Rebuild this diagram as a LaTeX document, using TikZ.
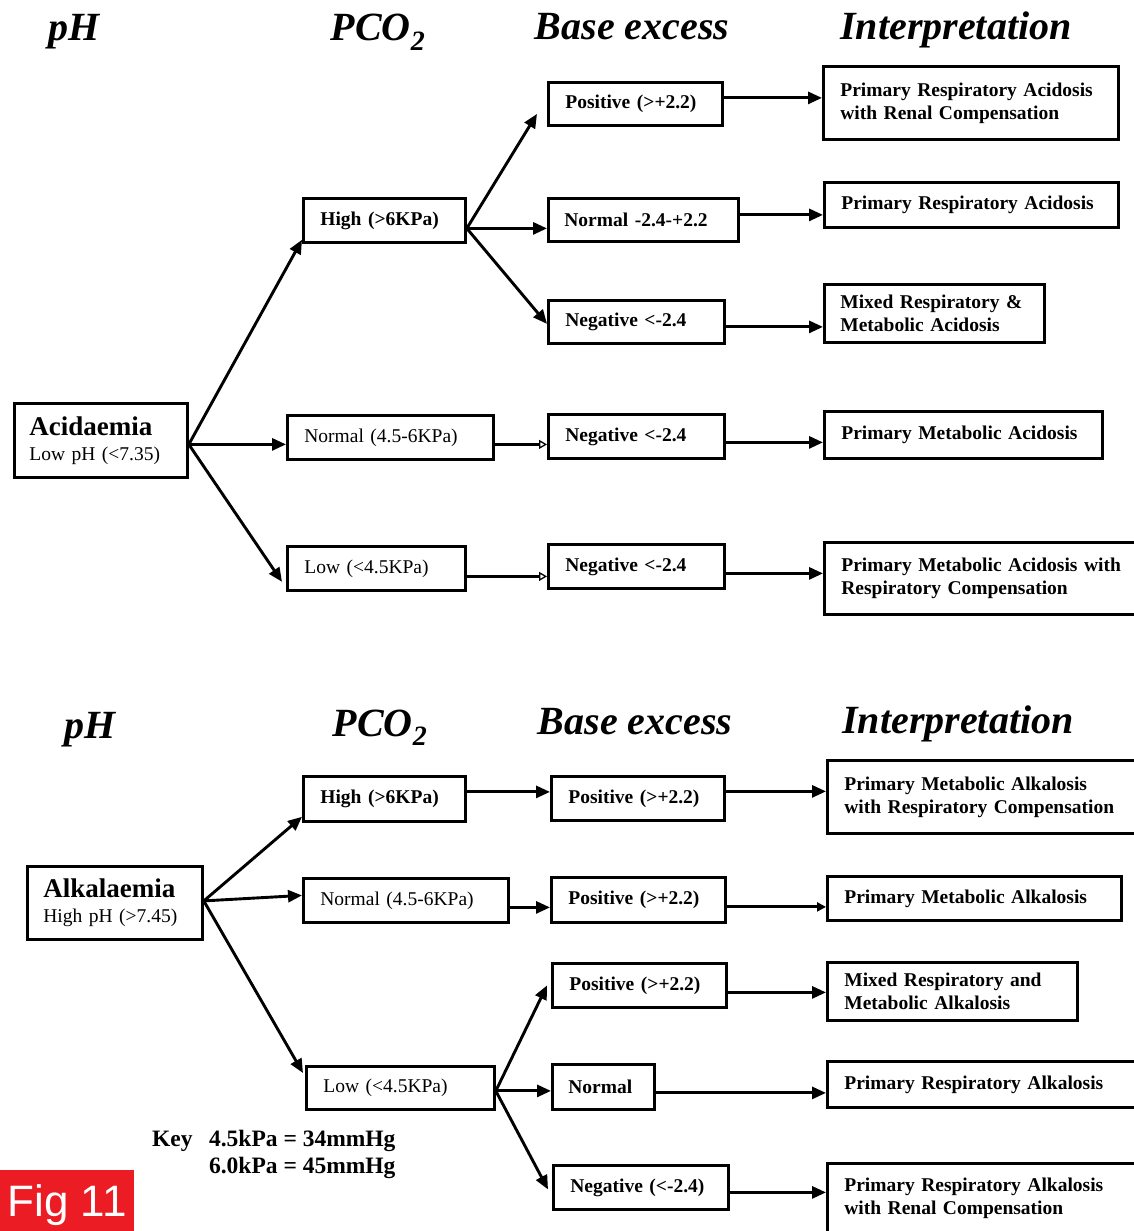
\documentclass[tikz,border=0pt]{standalone}
\usepackage{fontspec}
\setmainfont{Liberation Serif}
\newfontfamily\figfont{Liberation Sans}
\usetikzlibrary{arrows.meta,calc}
\definecolor{figred}{RGB}{236,28,36}
\tikzset{
  box/.style={draw, line width=2.8pt, anchor=north west, inner xsep=16pt, inner ysep=2pt, align=left, font=\fontsize{19.5}{23}\selectfont\bfseries},
  boxr/.style={box, font=\fontsize{19.5}{23}\selectfont},
  hdr/.style={anchor=base, inner sep=0pt, font=\fontsize{40}{44}\selectfont\bfseries\itshape},
  keytext/.style={inner sep=0pt, font=\fontsize{23.5}{26}\selectfont\bfseries},
  arr/.style={line width=2.9pt, -{Triangle[length=14pt,width=12pt]}},
  oarr/.style={line width=2.9pt, -{Triangle[open,length=8pt,width=9pt,line width=1.3pt]}},
}
\begin{document}
\begin{tikzpicture}[x=1pt,y=-1pt]
\useasboundingbox (0,0) rectangle (1134,1231);
\clip (0,0) rectangle (1134,1231);

% ---------- top headers
\node[hdr] (h1) at (74,41) {pH};
\node[hdr] (h2) at (378,41) {PCO\textsubscript{2}};
\node[hdr] (h3) at (632,40) {Base excess};
\node[hdr] (h4) at (956,40) {Interpretation};

% ---------- top boxes
\node[box, font=\fontsize{19.5}{25}\selectfont, inner xsep=14pt, minimum width=173, minimum height=74, text width=143] (acid) at (13,402)
  {{\bfseries\fontsize{27}{25}\selectfont Acidaemia}\\Low pH (<7.35)};
\node[box,  minimum width=162, minimum height=44, text width=128] (highA) at (302,197) {High (>6KPa)};
\node[boxr, minimum width=206, minimum height=44, text width=172] (normA) at (286,414) {Normal (4.5-6KPa)};
\node[boxr, minimum width=178, minimum height=44, text width=144] (lowA) at (286,545) {Low (<4.5KPa)};

\node[box, minimum width=174, minimum height=43, text width=140] (pos1) at (547,81) {Positive (>+2.2)};
\node[box, minimum width=190, minimum height=43, text width=158] (nor1) at (547,197) {Normal -2.4-+2.2};
\node[box, minimum width=176, minimum height=43, text width=142] (neg1) at (547,299) {Negative <-2.4};
\node[box, minimum width=176, minimum height=44, text width=142] (neg2) at (547,413) {Negative <-2.4};
\node[box, minimum width=176, minimum height=44, text width=142] (neg3) at (547,543) {Negative <-2.4};

\node[box, minimum width=295, minimum height=73, text width=261] (int1) at (822,65) {Primary Respiratory Acidosis\\with Renal Compensation};
\node[box, minimum width=294, minimum height=45, text width=260] (int2) at (823,181) {Primary Respiratory Acidosis};
\node[box, minimum width=220, minimum height=58, text width=188] (int3) at (823,283) {Mixed Respiratory \&\\Metabolic Acidosis};
\node[box, minimum width=278, minimum height=47, text width=244] (int4) at (823,410) {Primary Metabolic Acidosis};
\node[box, minimum width=330, minimum height=72, text width=296] (int5) at (823,541) {Primary Metabolic Acidosis with\\Respiratory Compensation};

% ---------- top arrows
\path ($(acid.east)+(0,4)$) coordinate (a0)
      ($(highA.east)+(0,8)$) coordinate (hA)
      ($(normA.east)+(0,7)$) coordinate (nA)
      ($(lowA.east)+(0,8)$) coordinate (lA)
      ($(pos1.east)+(0,-6)$) coordinate (p1)
      ($(nor1.east)+(0,-5)$) coordinate (r1)
      ($(neg1.east)+(0,5)$) coordinate (g1)
      ($(neg2.east)+(0,6)$) coordinate (g2)
      ($(neg3.east)+(0,7)$) coordinate (g3);
\draw[arr] (a0) -- ($(highA.south west)+(0,-4)$);
\draw[arr] (a0) -- (a0 -| normA.west);
\draw[arr] (a0) -- ($(lowA.south west)+(-4,-10)$);
\draw[arr] (hA) -- ($(pos1.west)+(-10,10)$);
\draw[arr] (hA) -- (hA -| nor1.west);
\draw[arr] (hA) -- ($(neg1.west)+(0,2)$);
\draw[oarr] (nA) -- (nA -| neg2.west);
\draw[oarr] (lA) -- (lA -| neg3.west);
\draw[arr] (p1) -- (p1 -| int1.west);
\draw[arr] (r1) -- (r1 -| int2.west);
\draw[arr] (g1) -- (g1 -| int3.west);
\draw[arr] (g2) -- (g2 -| int4.west);
\draw[arr] (g3) -- (g3 -| int5.west);

% ---------- bottom headers
\node[hdr] (h5) at (90,738) {pH};
\node[hdr] (h6) at (380,736) {PCO\textsubscript{2}};
\node[hdr] (h7) at (635,734) {Base excess};
\node[hdr] (h8) at (958,733) {Interpretation};

% ---------- bottom boxes
\node[box, font=\fontsize{19.5}{25}\selectfont, inner xsep=15pt, minimum width=175, minimum height=73, text width=143] (alk) at (26,865)
  {{\bfseries\fontsize{27}{25}\selectfont Alkalaemia}\\High pH (>7.45)};
\node[box,  minimum width=162, minimum height=45, text width=128] (highB) at (302,775) {High (>6KPa)};
\node[boxr, minimum width=205, minimum height=44, text width=171] (normB) at (302,877) {Normal (4.5-6KPa)};
\node[boxr, minimum width=188, minimum height=43, text width=154] (lowB) at (305,1065) {Low (<4.5KPa)};

\node[box, minimum width=173, minimum height=44, text width=139] (posb1) at (550,775) {Positive (>+2.2)};
\node[box, minimum width=174, minimum height=45, text width=140] (posb2) at (550,876) {Positive (>+2.2)};
\node[box, minimum width=174, minimum height=44, text width=140] (posb3) at (551,962) {Positive (>+2.2)};
\node[box, minimum width=102, minimum height=45, text width=70] (norb) at (551,1063) {Normal};
\node[box, minimum width=175, minimum height=44, text width=141] (negb) at (552,1164) {Negative (<-2.4)};

\node[box, minimum width=330, minimum height=73, text width=296] (intb1) at (826,759) {Primary Metabolic Alkalosis\\with Respiratory Compensation};
\node[box, minimum width=294, minimum height=44, text width=260] (intb2) at (826,875) {Primary Metabolic Alkalosis};
\node[box, minimum width=250, minimum height=58, text width=216] (intb3) at (826,961) {Mixed Respiratory and\\Metabolic Alkalosis};
\node[box, minimum width=330, minimum height=46, text width=296] (intb4) at (826,1060) {Primary Respiratory Alkalosis};
\node[box, minimum width=330, minimum height=70, text width=296] (intb5) at (826,1162) {Primary Respiratory Alkalosis\\with Renal Compensation};

% ---------- bottom arrows
\path ($(alk.east)+(0,-2)$) coordinate (b0)
      ($(highB.east)+(0,-7)$) coordinate (hB)
      ($(normB.east)+(0,7)$) coordinate (nB)
      ($(lowB.east)+(0,3)$) coordinate (lB)
      ($(posb1.east)+(0,-7)$) coordinate (q1)
      ($(posb2.east)+(0,7)$) coordinate (q2)
      ($(posb3.east)+(0,7)$) coordinate (q3)
      ($(norb.east)+(0,6)$) coordinate (q4)
      ($(negb.east)+(0,5)$) coordinate (q5);
\draw[arr] (b0) -- ($(highB.south west)+(0,-6)$);
\draw[arr] (b0) -- ($(normB.west)+(0,-5)$);
\draw[arr] (b0) -- ($(lowB.north west)+(-2,8)$);
\draw[arr] (hB) -- (hB -| posb1.west);
\draw[arr] (nB) -- (nB -| posb2.west);
\draw[arr] (lB) -- ($(posb3.west)+(-4,0)$);
\draw[arr] (lB) -- (lB -| norb.west);
\draw[arr] (lB) -- ($(negb.west)+(-4,2)$);
\draw[arr] (q1) -- (q1 -| intb1.west);
\draw[line width=2.9pt, -{Triangle[length=9pt,width=9pt]}] (q2) -- (q2 -| intb2.west);
\draw[arr] (q3) -- (q3 -| intb3.west);
\draw[arr] (q4) -- (q4 -| intb4.west);
\draw[arr] (q5) -- (q5 -| intb5.west);

% ---------- key
\node[keytext, anchor=base west] (key1) at (152,1146) {Key\hspace{0.7em}4.5kPa = 34mmHg};
\node[keytext, anchor=base east] (key2) at ($(key1.base east)+(0,27)$) {6.0kPa = 45mmHg};

% ---------- figure label
\node[fill=figred, anchor=south west, minimum width=134, minimum height=61, inner sep=0pt, text depth=0pt, text=white, font=\figfont\fontsize{44}{44}\selectfont] (fig) at (0,1231) {Fig 11};
\end{tikzpicture}
\end{document}
